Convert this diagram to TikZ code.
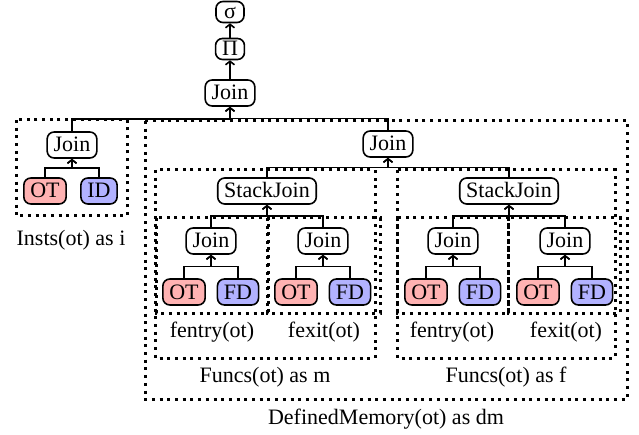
\documentclass[tikz,border=0pt]{standalone}
\usepackage{fontspec}
\setmainfont{Liberation Serif}
\usetikzlibrary{arrows.meta,calc}
\begin{document}
\begin{tikzpicture}[x=1pt,y=-1pt,
  op/.style={draw, line width=1.6pt, rounded corners=7pt, fill=white, inner xsep=6.5pt, inner ysep=5pt, text height=15pt, text depth=1pt, font=\fontsize{22pt}{26pt}\selectfont, minimum width=28pt},
  small/.style={op, inner ysep=4pt, text height=13pt, text depth=0pt},
  otbox/.style={op, fill=red!30},
  fdbox/.style={op, fill=blue!30},
  lbl/.style={font=\fontsize{22pt}{26pt}\selectfont, inner sep=0pt},
  dotbox/.style={line width=3pt, dash pattern=on 3pt off 4.7pt},
  edge/.style={line width=1.6pt, -{Straight Barb[length=3.5pt,width=9pt]}}
]
\useasboundingbox (0,0) rectangle (639,435);

% dotted containers
\draw[dotbox] (16,120) rectangle (127,216);
\draw[dotbox] (145,121) rectangle (627,399);
\draw[dotbox] (155,170) rectangle (375,358);
\draw[dotbox] (397,170) rectangle (615,358);
\draw[dotbox] (156,218) rectangle (268,313);
\draw[dotbox] (267,218) rectangle (380,313);
\draw[dotbox] (397,218) rectangle (508,313);
\draw[dotbox] (508,218) rectangle (620,313);

% labels
\node[lbl] (linsts) at (71,240) {Insts(ot) as i};
\node[lbl] (lfe1) at (212,332) {fentry(ot)};
\node[lbl] (lfx1) at (324,332) {fexit(ot)};
\node[lbl] (lfe2) at (452,332) {fentry(ot)};
\node[lbl] (lfx2) at (566,332) {fexit(ot)};
\node[lbl] (lfm) at (265,377) {Funcs(ot) as m};
\node[lbl] (lff) at (506,377) {Funcs(ot) as f};
\node[lbl] (ldm) at (386,419) {DefinedMemory(ot) as dm};

% operator nodes
\node[small] (sig) at (230,12) {σ};
\node[small] (pi) at (230,49) {Π};
\node[op] (jtop) at (230,93) {Join};
\node[op] (jins) at (72,145) {Join};
\node[otbox] (ot0) at (45,191) {OT};
\node[fdbox] (id0) at (99,191) {ID};
\node[op] (jdm) at (388,144) {Join};
\node[op] (sj1) at (267,191) {StackJoin};
\node[op] (sj2) at (509,191) {StackJoin};
\node[op] (j1) at (211,241) {Join};
\node[op] (j2) at (323,241) {Join};
\node[op] (j3) at (453,241) {Join};
\node[op] (j4) at (565,241) {Join};
\node[otbox] (ot1) at (184,292) {OT};
\node[fdbox] (fd1) at (238,292) {FD};
\node[otbox] (ot2) at (296,292) {OT};
\node[fdbox] (fd2) at (350,292) {FD};
\node[otbox] (ot3) at (426,292) {OT};
\node[fdbox] (fd3) at (480,292) {FD};
\node[otbox] (ot4) at (538,292) {OT};
\node[fdbox] (fd4) at (592,292) {FD};

% connectors
\draw[edge] (pi) -- (sig);
\draw[edge] (jtop) -- (pi);
\foreach \c/\p in {jins/jtop, jdm/jtop, ot0/jins, id0/jins, sj1/jdm, sj2/jdm,
  j1/sj1, j2/sj1, j3/sj2, j4/sj2, ot1/j1, fd1/j1, ot2/j2, fd2/j2, ot3/j3, fd3/j3, ot4/j4, fd4/j4}
  \draw[edge] (\c.north) |- ($(\c.north)!.5!(\p.south)$) -| (\p.south);
\end{tikzpicture}
\end{document}
